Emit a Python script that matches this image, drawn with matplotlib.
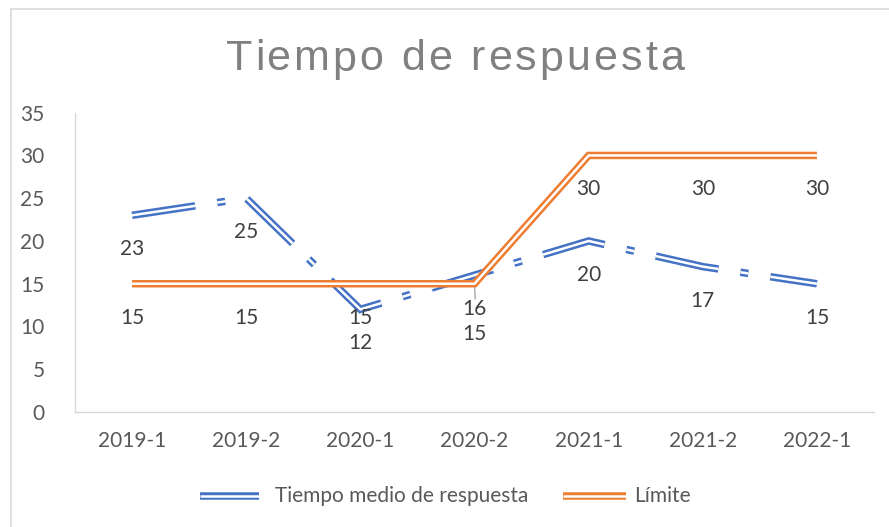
import matplotlib
matplotlib.use("Agg")
import matplotlib.pyplot as plt
from matplotlib.lines import Line2D

categories = ["2019-1", "2019-2", "2020-1", "2020-2", "2021-1", "2021-2", "2022-1"]
tiempo = [23, 25, 12, 16, 20, 17, 15]
limite = [15, 15, 15, 15, 30, 30, 30]
yticks = [0, 5, 10, 15, 20, 25, 30, 35]
series_names = ["Tiempo medio de respuesta", "Límite"]
title = "Tiempo de respuesta"

BLUE = "#4472C4"
ORANGE = "#ED7D31"
LABEL_C = "#404040"
TICK_C = "#595959"
AXIS_C = "#D9D9D9"
FONT = "Lato"
FS = 15

plt.rcParams["lines.scale_dashes"] = False
plt.rcParams["font.family"] = [FONT, "DejaVu Sans"]

W, H = 889, 527
fig = plt.figure(figsize=(W / 100, H / 100), dpi=100)
ax = fig.add_axes([75 / W, 1 - 412 / H, (874 - 75) / W, (412 - 112.7) / H])

x = list(range(len(categories)))
OUTER = 5.4
INNER = 1.8
dash = (0, (46, 16, 5.8, 16))

# blue double dashed line
ax.plot(x, tiempo, color=BLUE, lw=OUTER, linestyle=dash, dash_capstyle="butt",
        dash_joinstyle="miter", zorder=3)
ax.plot(x, tiempo, color="white", lw=INNER, linestyle=dash, dash_capstyle="butt",
        dash_joinstyle="miter", zorder=3.1)
# orange double line
ax.plot(x, limite, color=ORANGE, lw=OUTER, solid_joinstyle="miter",
        solid_capstyle="butt", zorder=4)
ax.plot(x, limite, color="white", lw=INNER, solid_joinstyle="miter",
        solid_capstyle="butt", zorder=4.1)

ax.set_xlim(-0.5, len(categories) - 0.5)
ax.set_ylim(0, 35)
ax.set_yticks(yticks)
ax.set_xticks(x)
ax.set_xticklabels(categories)
ax.tick_params(axis="both", length=0, labelsize=FS, colors=TICK_C)
ax.tick_params(axis="y", pad=22)
ax.tick_params(axis="x", pad=14)
for s in ["top", "right"]:
    ax.spines[s].set_visible(False)
for s in ["left", "bottom"]:
    ax.spines[s].set_color(AXIS_C)
    ax.spines[s].set_linewidth(1.0)

OFF = -24.5
for i, v in enumerate(tiempo):
    ax.annotate(str(v), (i, v), xytext=(0, OFF), textcoords="offset points",
                ha="center", va="center", fontsize=FS, color=LABEL_C, zorder=6)
for i, v in enumerate(limite):
    off = OFF
    if i == 3:
        off = -36
        ax.annotate("", (i, v), xytext=(0.5, -11), textcoords="offset points",
                    arrowprops=dict(arrowstyle="-", color="#A6A6A6", lw=1.0,
                                    shrinkA=0, shrinkB=2.5), zorder=5)
    ax.annotate(str(v), (i, v), xytext=(0, off), textcoords="offset points",
                ha="center", va="center", fontsize=FS, color=LABEL_C, zorder=6)

# chart border (left and top edges visible)
fig.add_artist(Line2D([11 / W, 11 / W], [0, 1 - 9 / H], color=AXIS_C, lw=1.2,
                      transform=fig.transFigure))
fig.add_artist(Line2D([11 / W, 1], [1 - 9 / H, 1 - 9 / H], color=AXIS_C, lw=1.2,
                      transform=fig.transFigure))

# title with letter spacing
renderer = fig.canvas.get_renderer()
tprops = dict(fontsize=31, color="#808080", family=["Liberation Sans", "DejaVu Sans"])


def width_px(s):
    t = fig.text(0, 0, s + "|", **tprops)
    w = t.get_window_extent(renderer).width
    t.remove()
    t2 = fig.text(0, 0, "|", **tprops)
    w2 = t2.get_window_extent(renderer).width
    t2.remove()
    return w - w2


track = 3.1
full = width_px(title) + track * (len(title) - 1)
x0 = 455 - full / 2
base_y = 1 - 70.5 / H
for i, ch in enumerate(title):
    if ch == " ":
        continue
    px = x0 + width_px(title[:i]) + track * i
    fig.text(px / W, base_y, ch, ha="left", va="baseline", **tprops)

# legend
ly = 1 - 496 / H
for (x1, x2, col, tx, name) in [(200, 259, BLUE, 275, series_names[0]),
                                 (563, 626, ORANGE, 634, series_names[1])]:
    fig.add_artist(Line2D([x1 / W, x2 / W], [ly, ly], color=col, lw=OUTER,
                          solid_capstyle="butt", transform=fig.transFigure))
    fig.add_artist(Line2D([x1 / W, x2 / W], [ly, ly], color="white", lw=INNER,
                          solid_capstyle="butt", transform=fig.transFigure))
    fig.text(tx / W, ly, name, ha="left", va="center", fontsize=FS, color=TICK_C)

fig.savefig("out.png", dpi=100)
